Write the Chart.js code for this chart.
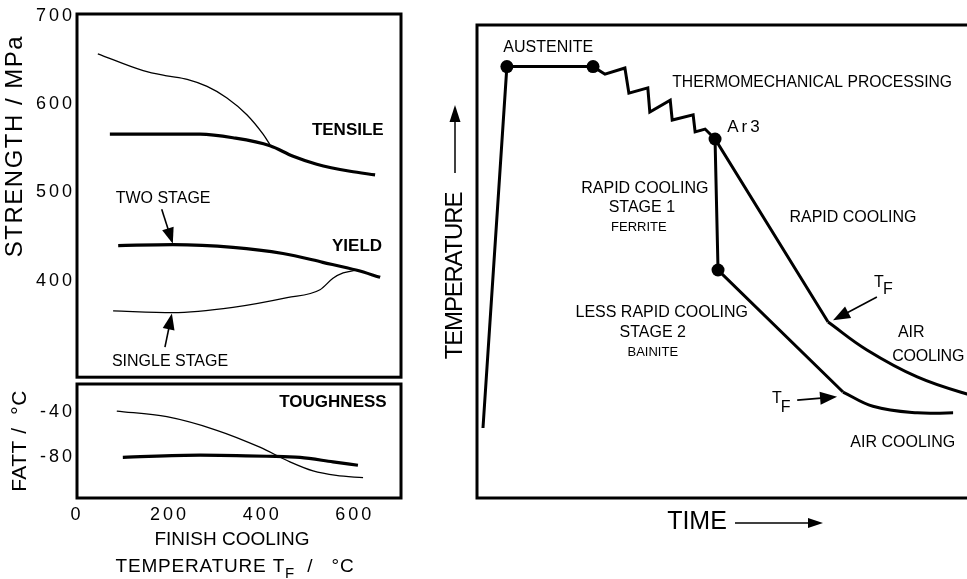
<!DOCTYPE html>
<html>
<head>
<meta charset="utf-8">
<title>Two-stage accelerated cooling</title>
<script src="https://cdn.jsdelivr.net/npm/chart.js@4.4.1/dist/chart.umd.min.js"></script>
<style>
  html, body { margin: 0; padding: 0; background: #fff; width: 967px; height: 579px; overflow: hidden; }
  canvas { position: absolute; display: block; }
</style>
</head>
<body>
<canvas id="strength" width="410" height="390" style="left:0;top:0"></canvas>
<canvas id="fatt" width="410" height="209" style="left:0;top:370px"></canvas>
<canvas id="route" width="545" height="579" style="left:440px;top:0"></canvas>
<script>
// ---- Finish cooling temperature T_F (°C) against strength (MPa) ----
const tfTicks = [0, 200, 400, 600];
const strengthTicks = [400, 500, 600, 700];
const fattTicks = [-80, -40];

const tensileSingleTF = [45, 143, 194, 238, 281, 324, 367, 402, 417];
const tensileSingle   = [657, 638, 632, 628, 620, 607, 588, 566, 554];
const tensileTwoTF    = [71, 266, 337, 417, 467, 518, 590, 644];
const tensileTwo      = [566, 566, 562, 553, 541, 532, 524, 520];
const yieldTwoTF      = [89, 207, 337, 445, 531, 605, 655];
const yieldTwo        = [440, 441, 438, 431, 421, 412, 404];
const yieldSingleTF   = [78, 207, 337, 454, 525, 553, 575, 601];
const yieldSingle     = [366, 364, 370, 381, 390, 403, 409, 412];

// ---- Fracture appearance transition temperature (°C) ----
const fattSingleTF = [86, 194, 302, 395, 460, 510, 560, 618];
const fattSingle   = [-39, -44, -56, -71, -84, -92, -96, -98];
const fattTwoTF    = [99, 266, 410, 482, 553, 607];
const fattTwo      = [-80, -78, -79, -80, -84, -87];

// ---- Schematic processing route: time vs temperature (arbitrary units) ----
const routeTime = [1.2, 6.0, 23.3, 25.7, 29.7, 30.5, 34.3, 34.7, 38.8, 39.2, 43.4, 43.8, 45.8, 47.8, 70.5];
const routeTemp = [14.8, 91.2, 91.2, 89.6, 90.9, 85.6, 86.7, 81.6, 84.1, 79.9, 81.0, 77.4, 78.0, 75.9, 37.2];
const airTime1  = [70.5, 78.3, 88.4, 98.4, 104];
const airTemp1  = [37.2, 31.3, 25.6, 22.0, 20.8];
const stageTime = [47.8, 48.4, 73.5];
const stageTemp = [75.9, 48.2, 22.4];
const airTime2  = [73.5, 79.5, 88.4, 95.6];
const airTemp2  = [22.4, 19.4, 18.0, 18.0];

const FONT = "'Liberation Sans', Arial, Helvetica, sans-serif";
Chart.defaults.font.family = FONT;
Chart.defaults.color = '#000';

const pts = (xs, ys) => xs.map((x, i) => ({ x, y: ys[i] }));

function drawArrow(ctx, x1, y1, x2, y2, w, len, hw) {
  const ang = Math.atan2(y2 - y1, x2 - x1);
  const c = Math.cos(ang), s = Math.sin(ang);
  const bx = x2 - len * c, by = y2 - len * s;
  ctx.lineWidth = w;
  ctx.beginPath(); ctx.moveTo(x1, y1); ctx.lineTo(bx + c, by + s); ctx.stroke();
  ctx.beginPath();
  ctx.moveTo(x2, y2);
  ctx.lineTo(bx + hw / 2 * s, by - hw / 2 * c);
  ctx.lineTo(bx - hw / 2 * s, by + hw / 2 * c);
  ctx.closePath(); ctx.fill();
}

function drawText(ctx, t, x, y) {
  ctx.save();
  ctx.font = t.font;
  ctx.letterSpacing = t.ls || '0px';
  ctx.textAlign = t.align || 'center';
  ctx.textBaseline = 'middle';
  ctx.translate(x, y);
  if (t.rot) ctx.rotate(t.rot);
  if (t.parts) {
    // inline run of pieces, some lowered as subscripts
    let total = 0;
    t.parts.forEach(p => { ctx.font = p.font || t.font; total += ctx.measureText(p.text).width; });
    let cx = -total / 2;
    ctx.textAlign = 'left';
    t.parts.forEach(p => {
      ctx.font = p.font || t.font;
      ctx.fillText(p.text, cx, p.dy || 0);
      cx += ctx.measureText(p.text).width;
    });
  } else {
    ctx.fillText(t.text, 0, 0);
    if (t.sub) {
      ctx.textAlign = 'left';
      ctx.fillText(t.sub, t.subDx, t.subDy);
    }
  }
  ctx.restore();
}

// Frame, tick letter spacing, labels and arrows for one panel
function panelPlugin(spec) {
  return {
    id: 'panel_' + spec.name,
    beforeDraw(chart) { chart.ctx.letterSpacing = spec.tickSpacing || '0px'; },
    beforeDatasetsDraw(chart) {
      const { ctx, chartArea: a } = chart;
      ctx.letterSpacing = '0px';
      ctx.save();
      ctx.strokeStyle = '#000';
      ctx.lineWidth = 3;
      ctx.strokeRect(a.left, a.top, a.right - a.left, a.bottom - a.top);
      ctx.restore();
    },
    afterDatasetsDraw(chart) {
      const { ctx, chartArea: a, scales } = chart;
      const toPx = p => [scales.x.getPixelForValue(p[0]), scales.y.getPixelForValue(p[1])];
      ctx.save();
      ctx.fillStyle = '#000';
      ctx.strokeStyle = '#000';
      (spec.arrows || []).forEach(ar => {
        const f = ar.from ? toPx(ar.from) : ar.fromPx(a);
        const t = ar.to ? toPx(ar.to) : ar.toPx(a);
        drawArrow(ctx, f[0], f[1], t[0], t[1], ar.w || 1.6, ar.len || 16, ar.hw || 12);
      });
      (spec.texts || []).forEach(t => {
        const p = t.at ? toPx(t.at) : t.atPx(a);
        drawText(ctx, t, p[0], p[1]);
      });
      ctx.restore();
    }
  };
}

const thin = 1.3, thick = 3.2;
function curve(xs, ys, w) {
  return {
    data: pts(xs, ys), borderColor: '#000', borderWidth: w,
    pointRadius: 0, cubicInterpolationMode: 'monotone', fill: false
  };
}

// ---------- Strength panel ----------
new Chart(document.getElementById('strength'), {
  type: 'line',
  data: {
    datasets: [
      curve(tensileSingleTF, tensileSingle, thin),
      curve(tensileTwoTF, tensileTwo, thick),
      curve(yieldTwoTF, yieldTwo, thick),
      curve(yieldSingleTF, yieldSingle, thin)
    ]
  },
  options: {
    responsive: false, animation: false, events: [],
    layout: { padding: { top: 14, right: 9, bottom: 6, left: 0 } },
    plugins: { legend: { display: false }, tooltip: { enabled: false } },
    scales: {
      x: { type: 'linear', display: false, min: 0, max: 700 },
      y: {
        type: 'linear', min: 291, max: 702,
        afterFit: s => { s.width = 77; },
        afterBuildTicks: s => { s.ticks = strengthTicks.map(v => ({ value: v })); },
        grid: { display: false, drawTicks: false },
        border: { display: false },
        ticks: { font: { size: 18 }, padding: 2, autoSkip: false }
      }
    }
  },
  plugins: [panelPlugin({
    name: 'strength', tickSpacing: '3px',
    texts: [
      { text: 'TENSILE', at: [585, 570], font: `bold 17px ${FONT}` },
      { text: 'YIELD', at: [605, 439], font: `bold 17px ${FONT}` },
      { text: 'TWO STAGE', at: [186, 493], font: `16px ${FONT}` },
      { text: 'SINGLE STAGE', at: [201, 309], font: `16px ${FONT}` },
      { text: 'STRENGTH / MPa', atPx: a => [a.left - 62, a.top + 132], rot: -Math.PI / 2, font: `24px ${FONT}`, ls: '1.5px' }
    ],
    arrows: [
      { from: [183, 481], to: [207, 442] },
      { from: [190, 325], to: [205, 363] }
    ]
  })]
});

// ---------- FATT panel ----------
new Chart(document.getElementById('fatt'), {
  type: 'line',
  data: {
    datasets: [
      curve(fattSingleTF, fattSingle, thin),
      curve(fattTwoTF, fattTwo, thick)
    ]
  },
  options: {
    responsive: false, animation: false, events: [],
    layout: { padding: { top: 14, right: 9, bottom: 0, left: 0 } },
    plugins: { legend: { display: false }, tooltip: { enabled: false } },
    scales: {
      x: {
        type: 'linear', min: 0, max: 700,
        afterFit: s => { s.height = 81; },
        afterBuildTicks: s => { s.ticks = tfTicks.map(v => ({ value: v })); },
        grid: { display: false, drawTicks: false },
        border: { display: false },
        ticks: { font: { size: 18 }, padding: 6, autoSkip: false, maxRotation: 0 }
      },
      y: {
        type: 'linear', min: -116, max: -15,
        afterFit: s => { s.width = 77; },
        afterBuildTicks: s => { s.ticks = fattTicks.map(v => ({ value: v })); },
        grid: { display: false, drawTicks: false },
        border: { display: false },
        ticks: { font: { size: 18 }, padding: 2, autoSkip: false }
      }
    }
  },
  plugins: [panelPlugin({
    name: 'fatt', tickSpacing: '3px',
    texts: [
      { text: 'TOUGHNESS', at: [553, -31], font: `bold 17px ${FONT}` },
      { text: 'FATT /  °C', atPx: a => [a.left - 57, (a.top + a.bottom) / 2], rot: -Math.PI / 2, font: `21px ${FONT}`, ls: '0.5px' },
      { text: 'FINISH COOLING', atPx: a => [232, a.bottom + 42], font: `19px ${FONT}` },
      {
        atPx: a => [235, a.bottom + 69], font: `19px ${FONT}`, ls: '0.8px',
        parts: [
          { text: 'TEMPERATURE T' },
          { text: 'F', font: `15px ${FONT}`, dy: 7 },
          { text: '  /   °C' }
        ]
      }
    ]
  })]
});

// ---------- Processing route panel ----------
const dotAt = (n, idx) => Array.from({ length: n }, (_, i) => (idx.includes(i) ? 6.5 : 0));
function route(xs, ys, dots, smooth) {
  return {
    data: pts(xs, ys), borderColor: '#000', borderWidth: 3,
    pointRadius: dotAt(xs.length, dots), pointBackgroundColor: '#000', pointBorderWidth: 0,
    tension: smooth ? 0.4 : 0, fill: false,
    borderJoinStyle: 'miter'
  };
}

new Chart(document.getElementById('route'), {
  type: 'line',
  data: {
    datasets: [
      route(routeTime, routeTemp, [1, 2, 13], false),
      route(airTime1, airTemp1, [], true),
      route(stageTime, stageTemp, [1], false),
      route(airTime2, airTemp2, [], true)
    ]
  },
  options: {
    responsive: false, animation: false, events: [],
    layout: { padding: { top: 25, right: 10, bottom: 81, left: 37 } },
    plugins: { legend: { display: false }, tooltip: { enabled: false } },
    scales: {
      x: { type: 'linear', display: false, min: 0, max: 100 },
      y: { type: 'linear', display: false, min: 0, max: 100 }
    }
  },
  plugins: [panelPlugin({
    name: 'route',
    texts: [
      { text: 'AUSTENITE', at: [14.3, 95.3], font: `16px ${FONT}` },
      { text: 'THERMOMECHANICAL PROCESSING', at: [67.3, 87.9], font: `15.7px ${FONT}` },
      { text: 'Ar3', at: [53.8, 78.4], font: `17px ${FONT}`, ls: '3px' },
      { text: 'RAPID COOLING', at: [33.7, 65.5], font: `16px ${FONT}` },
      { text: 'STAGE 1', at: [33.1, 61.5], font: `16px ${FONT}` },
      { text: 'FERRITE', at: [32.5, 57.1], font: `13px ${FONT}` },
      { text: 'RAPID COOLING', at: [75.5, 59.2], font: `16px ${FONT}` },
      { text: 'LESS RAPID COOLING', at: [37.1, 39.1], font: `16px ${FONT}` },
      { text: 'STAGE 2', at: [35.3, 34.9], font: `16px ${FONT}` },
      { text: 'BAINITE', at: [35.3, 30.7], font: `13px ${FONT}` },
      { text: 'AIR', at: [87.2, 34.9], font: `16px ${FONT}` },
      { text: 'COOLING', at: [83.4, 30.0], font: `16px ${FONT}`, align: 'left', ls: '-0.3px' },
      { text: 'AIR COOLING', at: [85.5, 11.8], font: `16px ${FONT}` },
      { text: 'T', sub: 'F', subDx: 4, subDy: 7, at: [80.7, 45.5], font: `16px ${FONT}` },
      { text: 'T', sub: 'F', subDx: 4, subDy: 9, at: [60.2, 21.1], font: `16px ${FONT}` },
      { text: 'TIME', atPx: a => [a.left + 220, a.bottom + 24], font: `25px ${FONT}` },
      { text: 'TEMPERATURE', atPx: a => [a.left - 22, a.top + 251], rot: -Math.PI / 2, font: `24px ${FONT}`, ls: '-1.2px' }
    ],
    arrows: [
      { from: [80.3, 42.5], to: [71.5, 37.6], len: 17, hw: 13 },
      { from: [64.3, 20.7], to: [72.3, 21.4], len: 17, hw: 13 },
      { fromPx: a => [a.left + 258, a.bottom + 25], toPx: a => [a.left + 346, a.bottom + 25], len: 15, hw: 10, w: 1.5 },
      { fromPx: a => [a.left - 22, a.top + 148], toPx: a => [a.left - 22, a.top + 80], len: 17, hw: 11, w: 1.5 }
    ]
  })]
});
</script>
</body>
</html>
